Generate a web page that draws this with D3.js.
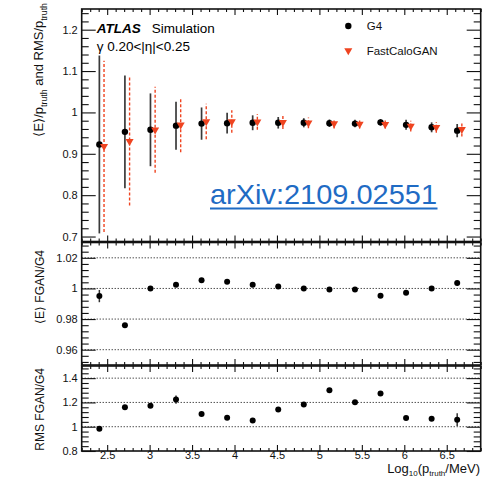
<!DOCTYPE html>
<html>
<head>
<meta charset="utf-8">
<script src="https://cdn.jsdelivr.net/npm/d3@7"></script>
<style>
  html, body { margin: 0; padding: 0; background: #fff; }
  svg { display: block; }
  text { font-family: "Liberation Sans", Arial, Helvetica, sans-serif; }
</style>
</head>
<body>
<svg id="chart" width="503" height="478"></svg>
<script>
// Photon energy points, log10(p_truth / MeV)
const logE = [2.408, 2.709, 3.010, 3.311, 3.612, 3.913, 4.214, 4.515, 4.816, 5.118, 5.419, 5.720, 6.021, 6.322, 6.623];

// Response <E>/p_truth and resolution RMS/p_truth
const g4Mean  = [0.9225, 0.953, 0.958, 0.968, 0.973, 0.974, 0.975, 0.975, 0.975, 0.974, 0.973, 0.976, 0.970, 0.964, 0.956];
const g4Rms   = [0.215, 0.136, 0.088, 0.058, 0.039, 0.025, 0.018, 0.014, 0.011, 0.009, 0.009, 0.008, 0.012, 0.012, 0.016];
const ganMean = [0.918, 0.930, 0.958, 0.970, 0.978, 0.978, 0.977, 0.976, 0.975, 0.973, 0.972, 0.971, 0.967, 0.964, 0.959];
const ganRms  = [0.207, 0.155, 0.104, 0.066, 0.043, 0.027, 0.019, 0.016, 0.013, 0.012, 0.011, 0.010, 0.013, 0.013, 0.017];

// Ratios FastCaloGAN / G4
const ratioMean    = [0.995, 0.976, 1.000, 1.0024, 1.0054, 1.0044, 1.0024, 1.0013, 1.000, 0.9993, 0.9993, 0.9952, 0.9972, 1.000, 1.0035];
const ratioMeanErr = [0.004, 0.0008, 0.0006, 0.0006, 0.0006, 0.0005, 0.0005, 0.0005, 0.0005, 0.0005, 0.0005, 0.0005, 0.0005, 0.0005, 0.0006];
const ratioRms     = [0.984, 1.161, 1.172, 1.224, 1.104, 1.074, 1.052, 1.142, 1.183, 1.301, 1.202, 1.273, 1.071, 1.066, 1.058];
const ratioRmsErr  = [0.012, 0.012, 0.012, 0.034, 0.010, 0.010, 0.010, 0.010, 0.010, 0.010, 0.010, 0.010, 0.012, 0.014, 0.052];

// Axis tick values
const xTicks    = [2.5, 3, 3.5, 4, 4.5, 5, 5.5, 6, 6.5];
const topYTicks = [0.7, 0.8, 0.9, 1, 1.1, 1.2];
const midYTicks = [0.96, 0.98, 1, 1.02];
const botYTicks = [0.8, 1, 1.2, 1.4];

const RED = "#ef4420";
const svg = d3.select("#chart");

const left = 81.7, right = 480.7;
const x = d3.scaleLinear().domain([2.2, 6.9]).range([left, right]);
const ganShift = 0.055;

const panels = [
  { key: "top", y0: 9,     y1: 241.5, domain: [0.688, 1.25], major: topYTicks, minorStep: 0.02, grid: [] },
  { key: "mid", y0: 242.5, y1: 365,   domain: [0.95, 1.03],  major: midYTicks, minorStep: 0.004, grid: midYTicks },
  { key: "bot", y0: 366,   y1: 451,   domain: [0.8, 1.5],    major: botYTicks, minorStep: 0.04, grid: [1, 1.2, 1.4] }
];

function minorValues(domain, step, majors) {
  const out = [];
  const a = Math.ceil(domain[0] / step - 1e-6), b = Math.floor(domain[1] / step + 1e-6);
  for (let i = a; i <= b; i++) {
    const v = +(i * step).toFixed(6);
    if (!majors.some(m => Math.abs(m - v) < 1e-6)) out.push(v);
  }
  return out;
}
const xMinor = minorValues([2.2, 6.9], 0.1, xTicks);
const fmt = d3.format("~g");

panels.forEach(p => {
  p.y = d3.scaleLinear().domain(p.domain).range([p.y1, p.y0]);
  const g = svg.append("g").attr("class", "panel-" + p.key);
  p.g = g;

  // dotted reference lines
  g.selectAll("line.grid").data(p.grid).join("line")
    .attr("class", "grid")
    .attr("x1", left).attr("x2", right)
    .attr("y1", d => p.y(d)).attr("y2", d => p.y(d))
    .attr("stroke", "#000").attr("stroke-width", 1)
    .attr("stroke-dasharray", "1,2");

  const yMinor = minorValues(p.domain, p.minorStep, p.major);

  // left axis: labels outside, ticks pointing inward
  const la = g.append("g").attr("transform", `translate(${left},0)`)
    .call(d3.axisLeft(p.y).tickValues(p.major).tickSize(-14).tickPadding(4).tickFormat(fmt));
  la.append("g").call(d3.axisLeft(p.y).tickValues(yMinor).tickSize(-7).tickFormat(""));
  // right axis mirrored
  const ra = g.append("g").attr("transform", `translate(${right},0)`)
    .call(d3.axisRight(p.y).tickValues(p.major).tickSize(-14).tickFormat(""));
  ra.append("g").call(d3.axisRight(p.y).tickValues(yMinor).tickSize(-7).tickFormat(""));
  // bottom and top x ticks
  const ba = g.append("g").attr("transform", `translate(0,${p.y1})`)
    .call(d3.axisBottom(x).tickValues(xTicks).tickSize(-6).tickPadding(0)
      .tickFormat(p.key === "bot" ? fmt : ""));
  ba.append("g").call(d3.axisBottom(x).tickValues(xMinor).tickSize(-3).tickFormat(""));
  const ta = g.append("g").attr("transform", `translate(0,${p.y0})`)
    .call(d3.axisTop(x).tickValues(xTicks).tickSize(-6).tickFormat(""));
  ta.append("g").call(d3.axisTop(x).tickValues(xMinor).tickSize(-3).tickFormat(""));

  g.selectAll(".domain").remove();
  g.selectAll(".tick line").attr("stroke", "#111").attr("stroke-width", 1.1);
  g.selectAll(".tick text").attr("font-size", 11).attr("fill", "#111")
    .attr("font-family", "'Liberation Sans', Arial, sans-serif");

  // frame
  g.append("rect")
    .attr("x", left).attr("y", p.y0)
    .attr("width", right - left).attr("height", p.y1 - p.y0)
    .attr("fill", "none").attr("stroke", "#111").attr("stroke-width", 1.6);
});

const [pTop, pMid, pBot] = panels;
const idx = d3.range(logE.length);

// ----- top panel: response with RMS bars -----
pTop.g.append("g").selectAll("line").data(idx).join("line")
  .attr("x1", i => x(logE[i])).attr("x2", i => x(logE[i]))
  .attr("y1", i => pTop.y(g4Mean[i] - g4Rms[i])).attr("y2", i => pTop.y(g4Mean[i] + g4Rms[i]))
  .attr("stroke", "#3a3a3a").attr("stroke-width", 1.7);
pTop.g.append("g").selectAll("line").data(idx).join("line")
  .attr("x1", i => x(logE[i] + ganShift)).attr("x2", i => x(logE[i] + ganShift))
  .attr("y1", i => pTop.y(ganMean[i] - ganRms[i])).attr("y2", i => pTop.y(ganMean[i] + ganRms[i]))
  .attr("stroke", RED).attr("stroke-width", 1.4).attr("stroke-dasharray", "3,2");

const tri = d3.symbol().type(d3.symbolTriangle).size(28);
pTop.g.append("g").selectAll("circle").data(idx).join("circle")
  .attr("cx", i => x(logE[i])).attr("cy", i => pTop.y(g4Mean[i]))
  .attr("r", 3.2).attr("fill", "#000");
pTop.g.append("g").selectAll("path").data(idx).join("path")
  .attr("d", tri)
  .attr("transform", i => `translate(${x(logE[i] + ganShift)},${pTop.y(ganMean[i])}) rotate(180)`)
  .attr("fill", RED);

// ----- ratio panels -----
function ratioPoints(p, vals, errs) {
  p.g.append("g").selectAll("line").data(idx).join("line")
    .attr("x1", i => x(logE[i])).attr("x2", i => x(logE[i]))
    .attr("y1", i => p.y(vals[i] - errs[i])).attr("y2", i => p.y(vals[i] + errs[i]))
    .attr("stroke", "#333").attr("stroke-width", 1.5);
  p.g.append("g").selectAll("circle").data(idx).join("circle")
    .attr("cx", i => x(logE[i])).attr("cy", i => p.y(vals[i]))
    .attr("r", 3).attr("fill", "#000");
}
ratioPoints(pMid, ratioMean, ratioMeanErr);
ratioPoints(pBot, ratioRms, ratioRmsErr);

// ----- labels -----
const t1 = svg.append("text").attr("x", 96.7).attr("y", 33).attr("font-size", 13.5).attr("fill", "#000");
t1.append("tspan").attr("font-weight", "bold").attr("font-style", "italic").text("ATLAS");
t1.append("tspan").attr("x", 151.7).text("Simulation");
svg.append("text").attr("x", 96.7).attr("y", 50.5).attr("font-size", 13.5).attr("fill", "#000")
  .text("γ 0.20<|η|<0.25");

// legend
const legend = svg.append("g");
legend.append("circle").attr("cx", 348.3).attr("cy", 26).attr("r", 3.2).attr("fill", "#000");
legend.append("path").attr("d", tri).attr("transform", "translate(348.3,50.5) rotate(180)").attr("fill", RED);
legend.append("text").attr("x", 366.7).attr("y", 30).attr("font-size", 11.5).attr("fill", "#111").text("G4");
legend.append("text").attr("x", 366.7).attr("y", 54.5).attr("font-size", 11.5).attr("fill", "#111").text("FastCaloGAN");

// y titles (rotated)
function yTitle(xPos, yEnd, size, parts) {
  const t = svg.append("text")
    .attr("transform", `translate(${xPos},${yEnd}) rotate(-90)`)
    .attr("text-anchor", "end").attr("font-size", size).attr("fill", "#111");
  let shifted = false;
  parts.forEach(([s, sub]) => {
    const ts = t.append("tspan").text(s);
    if (sub) { ts.attr("font-size", size * 0.68).attr("dy", size * 0.32); shifted = true; }
    else if (shifted) { ts.attr("dy", -size * 0.32); shifted = false; }
  });
  return t;
}
yTitle(42.5, 3, 13, [["⟨E⟩/p", false], ["truth", true], [" and RMS/p", false], ["truth", true]]);
yTitle(43.5, 250, 12, [["⟨E⟩ FGAN/G4", false]]);
yTitle(43.5, 368, 12, [["RMS FGAN/G4", false]]);

// x title
const xt = svg.append("text").attr("x", 480).attr("y", 473).attr("text-anchor", "end")
  .attr("font-size", 13).attr("fill", "#111");
xt.append("tspan").text("Log");
xt.append("tspan").attr("font-size", 8).attr("dy", 2.5).text("10");
xt.append("tspan").attr("dy", -2.5).text("(p");
xt.append("tspan").attr("font-size", 8).attr("dy", 2.5).text("truth");
xt.append("tspan").attr("dy", -2.5).text("/MeV)");

// reference link
svg.append("text").attr("x", 210).attr("y", 203.5)
  .attr("font-family", "'Open Sans', 'Noto Sans', sans-serif")
  .attr("font-size", 28).attr("fill", "#1f6bc4")
  .attr("textLength", 227).attr("lengthAdjust", "spacingAndGlyphs")
  .text("arXiv:2109.02551");
svg.append("line").attr("x1", 210).attr("x2", 437.5).attr("y1", 208.5).attr("y2", 208.5)
  .attr("stroke", "#1f6bc4").attr("stroke-width", 1.8);
</script>
</body>
</html>
